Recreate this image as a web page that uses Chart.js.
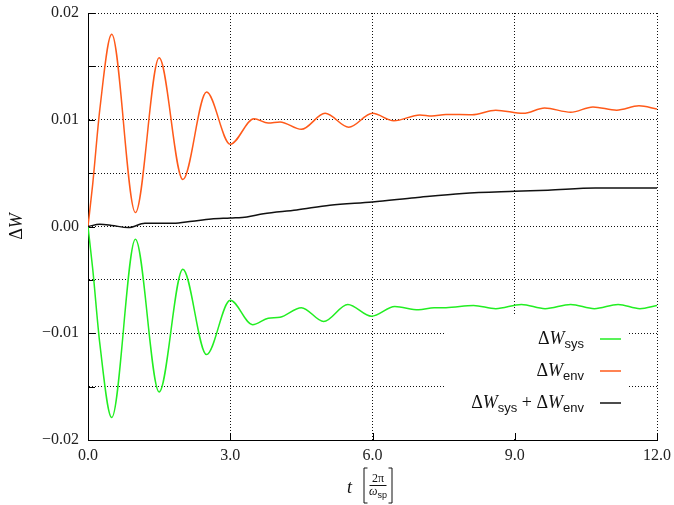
<!DOCTYPE html>
<html>
<head>
<meta charset="utf-8">
<script src="https://cdn.jsdelivr.net/npm/chart.js@4.4.0/dist/chart.umd.min.js"></script>
<style>
  body { margin: 0; background: #fff; }
  canvas { display: block; }
</style>
</head>
<body>
<canvas id="myChart" width="674" height="505"></canvas>
<script>
// t in units of 2pi/omega_sp, energy change Delta W
const sysT = [0, 0.1, 0.25, 0.5, 1.0, 1.5, 2.0, 2.5, 3.0, 3.47, 3.8, 4.05, 4.5, 4.97, 5.48, 5.98, 6.47, 6.97, 7.3, 7.55, 8.13, 8.6, 9.14, 9.64, 10.18, 10.68, 11.18, 11.64, 12.0];
const sysW = [0, -0.0040, -0.0110, -0.0179, -0.0012, -0.0155, -0.0040, -0.0120, -0.0069, -0.0092, -0.0086, -0.0085, -0.0076, -0.0089, -0.0073, -0.0084, -0.0075, -0.0078, -0.0076, -0.0076, -0.0074, -0.0077, -0.0073, -0.0077, -0.0073, -0.0077, -0.0073, -0.0077, -0.0074];

const envT = [0, 0.1, 0.25, 0.5, 1.0, 1.5, 2.0, 2.5, 3.0, 3.5, 3.8, 4.05, 4.5, 5.0, 5.5, 6.0, 6.45, 7.0, 7.25, 7.55, 8.1, 8.6, 9.18, 9.63, 10.18, 10.65, 11.15, 11.62, 12.0];
const envW = [0, 0.0040, 0.0110, 0.0180, 0.0013, 0.0158, 0.0044, 0.0126, 0.0077, 0.0101, 0.0097, 0.0098, 0.0091, 0.0106, 0.0093, 0.0106, 0.0099, 0.01045, 0.01035, 0.0105, 0.01047, 0.0109, 0.0106, 0.0111, 0.0107, 0.0112, 0.0109, 0.0113, 0.0110];

const sumT = [0, 0.25, 0.5, 0.85, 1.2, 1.8, 2.2, 2.6, 3.0, 3.35, 3.7, 4.4, 5.1, 6.0, 6.9, 7.9, 9.0, 9.7, 10.7, 12.0];
const sumW = [0, 0.0002, 0.0001, -0.0001, 0.0003, 0.0003, 0.0005, 0.0007, 0.0008, 0.0009, 0.0012, 0.00155, 0.0020, 0.0023, 0.0027, 0.0031, 0.0033, 0.0034, 0.0036, 0.0036];

const SERIF = '"Liberation Serif", "DejaVu Serif", serif';
const SANS = '"Liberation Sans", "DejaVu Sans", sans-serif';

const toPoints = (ts, ws) => ts.map((t, i) => ({ x: t, y: ws[i] }));

// legend text pieces: [text, kind] where kind is 'up', 'it', 'sub' or 'op'
const sysLabel = [['Δ', 'up'], ['W', 'it'], ['sys', 'sub']];
const envLabel = [['Δ', 'up'], ['W', 'it'], ['env', 'sub']];
const sumLabel = [['Δ', 'up'], ['W', 'it'], ['sys', 'sub'], [' + ', 'op'], ['Δ', 'up'], ['W', 'it'], ['env', 'sub']];

const fontFor = (kind, size) => {
    if (kind === 'it') return `italic ${size}px ${SERIF}`;
    if (kind === 'sub') return `${Math.round(size * 0.72)}px ${SANS}`;
    return `${size}px ${SERIF}`;
};

function drawRuns(ctx, runs, x, y, align, size) {
    let total = 0;
    const widths = runs.map(([text, kind]) => {
        ctx.font = fontFor(kind, size);
        const w = ctx.measureText(text).width;
        total += w;
        return w;
    });
    let cx = align === 'right' ? x - total : align === 'center' ? x - total / 2 : x;
    ctx.textAlign = 'left';
    ctx.textBaseline = 'alphabetic';
    runs.forEach(([text, kind], i) => {
        ctx.font = fontFor(kind, size);
        ctx.fillText(text, cx, y + (kind === 'sub' ? size * 0.22 : 0));
        cx += widths[i];
    });
}

const extras = {
    id: 'extras',
    beforeDatasetsDraw(chart) {
        const ctx = chart.ctx;
        const area = chart.chartArea;
        const xs = chart.scales.x, ys = chart.scales.y;
        ctx.save();

        // opaque key box
        ctx.fillStyle = '#fff';
        ctx.fillRect(area.right - 211, area.bottom - 124, 182, 123);

        // inward ticks on left and bottom axes
        ctx.strokeStyle = '#000';
        ctx.lineWidth = 1;
        ctx.beginPath();
        ys.ticks.forEach(t => {
            const py = Math.round(ys.getPixelForValue(t.value)) + 0.5;
            ctx.moveTo(area.left, py);
            ctx.lineTo(area.left + 7, py);
        });
        xs.ticks.forEach(t => {
            const px = Math.round(xs.getPixelForValue(t.value)) + 0.5;
            ctx.moveTo(px, area.bottom);
            ctx.lineTo(px, area.bottom - 7);
        });
        ctx.stroke();

        // key entries
        const rows = [sysLabel, envLabel, sumLabel];
        const colors = [chart.data.datasets[2].borderColor, chart.data.datasets[1].borderColor, chart.data.datasets[0].borderColor];
        rows.forEach((runs, i) => {
            const ly = area.bottom - 101 + i * 32;
            ctx.fillStyle = '#111';
            drawRuns(ctx, runs, area.right - 73, ly + 5, 'right', 18);
            ctx.strokeStyle = colors[i];
            ctx.lineWidth = 1.5;
            ctx.beginPath();
            ctx.moveTo(area.right - 57, ly);
            ctx.lineTo(area.right - 36, ly);
            ctx.stroke();
        });

        // y axis title
        ctx.fillStyle = '#111';
        ctx.save();
        ctx.translate(22, (area.top + area.bottom) / 2);
        ctx.rotate(-Math.PI / 2);
        drawRuns(ctx, [['Δ', 'up'], ['W', 'it']], 0, 0, 'center', 18);
        ctx.restore();

        // x axis title: t [2pi / omega_sp]
        const cx = (area.left + area.right) / 2;
        const bar = area.bottom + 45;
        drawRuns(ctx, [['t', 'it']], cx - 23, bar + 8, 'center', 18);
        ctx.strokeStyle = '#111';
        ctx.lineWidth = 1;
        ctx.beginPath();
        ctx.moveTo(cx - 5, bar - 17); ctx.lineTo(cx - 8.5, bar - 17); ctx.lineTo(cx - 8.5, bar + 18); ctx.lineTo(cx - 5, bar + 18);
        ctx.moveTo(cx + 16, bar - 17); ctx.lineTo(cx + 19.5, bar - 17); ctx.lineTo(cx + 19.5, bar + 18); ctx.lineTo(cx + 16, bar + 18);
        ctx.moveTo(cx - 3, bar + 0.5); ctx.lineTo(cx + 14, bar + 0.5);
        ctx.stroke();
        drawRuns(ctx, [['2π', 'up']], cx + 5.5, bar - 3, 'center', 12);
        drawRuns(ctx, [['ω', 'it'], ['sp', 'sub']], cx + 5.5, bar + 10, 'center', 12);

        ctx.restore();
    }
};

new Chart(document.getElementById('myChart').getContext('2d'), {
    type: 'line',
    data: {
        datasets: [{
            label: 'ΔW_sys + ΔW_env',
            data: toPoints(sumT, sumW),
            borderColor: '#111111'
        }, {
            label: 'ΔW_env',
            data: toPoints(envT, envW),
            borderColor: '#ff5a1a'
        }, {
            label: 'ΔW_sys',
            data: toPoints(sysT, sysW),
            borderColor: '#22ee22'
        }]
    },
    options: {
        responsive: false,
        animation: false,
        elements: {
            point: { radius: 0 },
            line: { borderWidth: 1.5, cubicInterpolationMode: 'monotone' }
        },
        layout: { padding: { left: 0, top: 13, right: 17, bottom: 0 } },
        plugins: { legend: { display: false }, tooltip: { enabled: false } },
        scales: {
            x: {
                type: 'linear',
                min: 0,
                max: 12,
                afterFit: s => { s.height = 65; s.paddingLeft = 0; s.paddingRight = 0; },
                ticks: {
                    stepSize: 3,
                    padding: 6,
                    color: '#222',
                    font: { family: SERIF, size: 16 },
                    maxRotation: 0,
                    callback: v => v.toFixed(1)
                },
                grid: { color: '#111', drawTicks: false },
                border: { color: '#000', width: 1, dash: [1, 2] }
            },
            y: {
                min: -0.02,
                max: 0.02,
                afterFit: s => { s.width = 88; s.paddingTop = 0; s.paddingBottom = 0; },
                ticks: {
                    stepSize: 0.005,
                    padding: 9,
                    color: '#222',
                    font: { family: SERIF, size: 16 },
                    callback: v => {
                        const k = Math.round(v * 1000);
                        if (k % 10 !== 0) return '';
                        return (k / 1000).toFixed(2).replace('-', '\u2212');
                    }
                },
                grid: { color: '#111', drawTicks: false },
                border: { color: '#000', width: 1, dash: [1, 2] }
            }
        }
    },
    plugins: [extras]
});
</script>
</body>
</html>
